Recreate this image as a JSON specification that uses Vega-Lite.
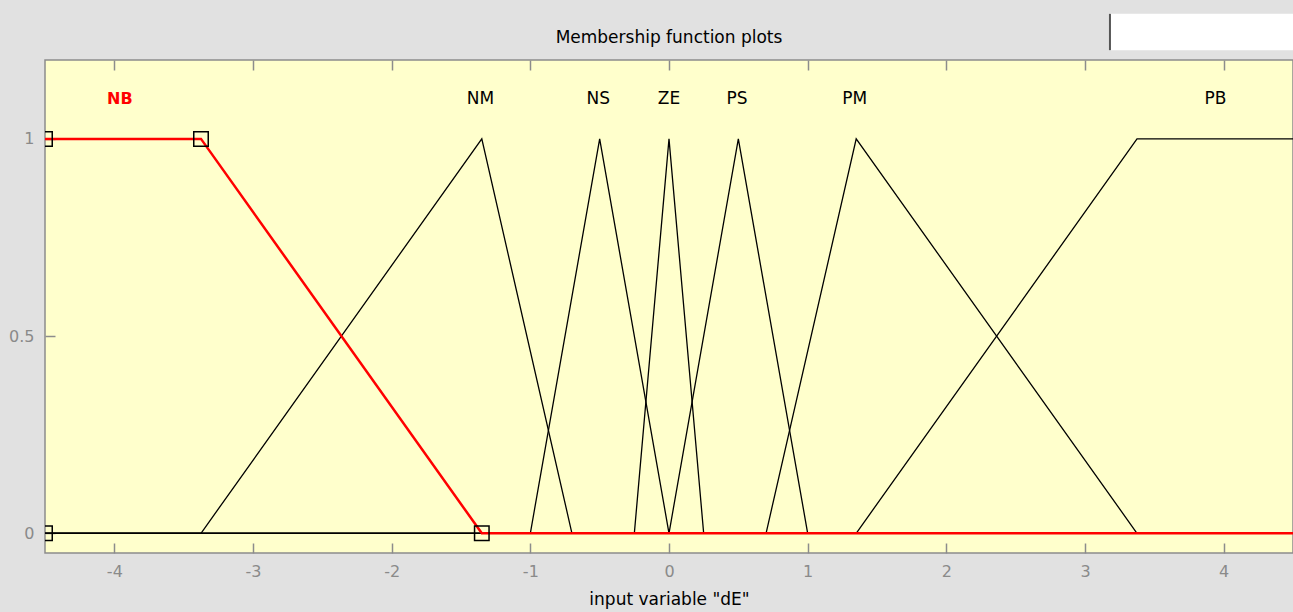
{
  "$schema": "https://vega.github.io/schema/vega-lite/v6.json",
  "width": 1248,
  "height": 493,
  "autosize": "none",
  "padding": {"left": 45, "top": 60, "right": 0, "bottom": 59},
  "background": "#e1e1e1",
  "title": {"text": "Membership function plots", "font": "DejaVu Sans", "fontSize": 17, "fontWeight": "normal", "color": "#000000", "anchor": "middle", "baseline": "alphabetic", "offset": -47},
  "config": {
    "view": {"fill": "#ffffcc", "stroke": "#8c8c8c", "strokeWidth": 1.5},
    "axis": {"labelFont": "DejaVu Sans", "titleFont": "DejaVu Sans", "labelColor": "#8a8a8a", "tickColor": "#8c8c8c", "domain": false, "grid": false, "labelFontSize": 16, "titleFontSize": 17, "titleFontWeight": "normal", "titleColor": "#000000", "tickWidth": 1.5}
  },
  "datasets": {
    "mf": [
      {"mf": "NM", "i": 0, "x": -4.5, "y": 0}, {"mf": "NM", "i": 1, "x": -3.375, "y": 0}, {"mf": "NM", "i": 2, "x": -1.35, "y": 1}, {"mf": "NM", "i": 3, "x": -0.7, "y": 0}, {"mf": "NM", "i": 4, "x": 4.5, "y": 0},
      {"mf": "NS", "i": 0, "x": -4.5, "y": 0}, {"mf": "NS", "i": 1, "x": -1, "y": 0}, {"mf": "NS", "i": 2, "x": -0.5, "y": 1}, {"mf": "NS", "i": 3, "x": 0, "y": 0}, {"mf": "NS", "i": 4, "x": 4.5, "y": 0},
      {"mf": "ZE", "i": 0, "x": -4.5, "y": 0}, {"mf": "ZE", "i": 1, "x": -0.25, "y": 0}, {"mf": "ZE", "i": 2, "x": 0, "y": 1}, {"mf": "ZE", "i": 3, "x": 0.25, "y": 0}, {"mf": "ZE", "i": 4, "x": 4.5, "y": 0},
      {"mf": "PS", "i": 0, "x": -4.5, "y": 0}, {"mf": "PS", "i": 1, "x": 0, "y": 0}, {"mf": "PS", "i": 2, "x": 0.5, "y": 1}, {"mf": "PS", "i": 3, "x": 1, "y": 0}, {"mf": "PS", "i": 4, "x": 4.5, "y": 0},
      {"mf": "PM", "i": 0, "x": -4.5, "y": 0}, {"mf": "PM", "i": 1, "x": 0.7, "y": 0}, {"mf": "PM", "i": 2, "x": 1.35, "y": 1}, {"mf": "PM", "i": 3, "x": 3.375, "y": 0}, {"mf": "PM", "i": 4, "x": 4.5, "y": 0},
      {"mf": "PB", "i": 0, "x": -4.5, "y": 0}, {"mf": "PB", "i": 1, "x": 1.35, "y": 0}, {"mf": "PB", "i": 2, "x": 3.375, "y": 1}, {"mf": "PB", "i": 3, "x": 4.5, "y": 1}
    ],
    "nb": [
      {"i": 0, "x": -4.5, "y": 1}, {"i": 1, "x": -3.375, "y": 1}, {"i": 2, "x": -1.35, "y": 0}, {"i": 3, "x": 4.5, "y": 0}
    ],
    "nbpts": [
      {"x": -4.5, "y": 0}, {"x": -4.5, "y": 1}, {"x": -3.375, "y": 1}, {"x": -1.35, "y": 0}
    ],
    "labels": [
      {"name": "NB", "x": -3.96, "y": 1.1, "sel": "yes"},
      {"name": "NM", "x": -1.36, "y": 1.1, "sel": "no"},
      {"name": "NS", "x": -0.51, "y": 1.1, "sel": "no"},
      {"name": "ZE", "x": 0, "y": 1.1, "sel": "no"},
      {"name": "PS", "x": 0.49, "y": 1.1, "sel": "no"},
      {"name": "PM", "x": 1.34, "y": 1.1, "sel": "no"},
      {"name": "PB", "x": 3.94, "y": 1.1, "sel": "no"}
    ]
  },
  "layer": [
    {
      "data": {"name": "mf"},
      "mark": {"type": "line", "color": "#000000", "strokeWidth": 1.3, "clip": true},
      "encoding": {
        "x": {"field": "x", "type": "quantitative", "scale": {"domain": [-4.5, 4.5], "nice": false, "zero": false}, "axis": {"orient": "bottom", "values": [-4, -3, -2, -1, 0, 1, 2, 3, 4], "labelExpr": "datum.value + ''", "tickSize": -10, "labelPadding": 20, "title": "input variable \"dE\"", "titlePadding": 12}},
        "y": {"field": "y", "type": "quantitative", "scale": {"domain": [-0.05, 1.2], "nice": false, "zero": false}, "axis": {"orient": "left", "values": [0, 0.5, 1], "labelExpr": "datum.value + ''", "tickSize": -10, "labelPadding": 21, "title": null}},
        "detail": {"field": "mf"},
        "order": {"field": "i"}
      }
    },
    {
      "data": {"name": "nb"},
      "mark": {"type": "line", "color": "#ff0000", "strokeWidth": 2.5, "clip": true},
      "encoding": {
        "x": {"field": "x", "type": "quantitative", "axis": null},
        "y": {"field": "y", "type": "quantitative"},
        "order": {"field": "i"}
      }
    },
    {
      "data": {"name": "nbpts"},
      "mark": {"type": "point", "shape": "square", "size": 210, "filled": false, "stroke": "#000000", "strokeWidth": 1.5, "opacity": 1, "clip": true},
      "encoding": {
        "x": {"field": "x", "type": "quantitative", "axis": null},
        "y": {"field": "y", "type": "quantitative"}
      }
    },
    {
      "data": {"name": "labels"},
      "transform": [{"filter": "datum.sel == 'no'"}],
      "mark": {"type": "text", "font": "DejaVu Sans", "fontSize": 17, "align": "center", "baseline": "middle", "color": "#000000"},
      "encoding": {
        "x": {"field": "x", "type": "quantitative", "axis": {"orient": "top", "values": [-4, -3, -2, -1, 0, 1, 2, 3, 4], "tickSize": -10, "labels": false, "title": null}},
        "y": {"field": "y", "type": "quantitative"},
        "text": {"field": "name"}
      }
    },
    {
      "data": {"name": "labels"},
      "transform": [{"filter": "datum.sel == 'yes'"}],
      "mark": {"type": "text", "font": "DejaVu Sans", "fontSize": 16, "fontWeight": "bold", "align": "center", "baseline": "middle", "color": "#ff0000"},
      "encoding": {
        "x": {"field": "x", "type": "quantitative", "axis": null},
        "y": {"field": "y", "type": "quantitative"},
        "text": {"field": "name"}
      }
    },
    {
      "data": {"values": [{}]},
      "mark": {"type": "rect", "fill": "#ffffff", "clip": false},
      "encoding": {
        "x": {"datum": 3.18, "type": "quantitative", "axis": null},
        "x2": {"datum": 4.6},
        "y": {"datum": 1.317, "type": "quantitative"},
        "y2": {"datum": 1.225}
      }
    },
    {
      "data": {"values": [{}]},
      "mark": {"type": "rule", "color": "#555555", "strokeWidth": 2, "clip": false},
      "encoding": {
        "x": {"datum": 3.18, "type": "quantitative", "axis": null},
        "y": {"datum": 1.317, "type": "quantitative"},
        "y2": {"datum": 1.225}
      }
    }
  ]
}
